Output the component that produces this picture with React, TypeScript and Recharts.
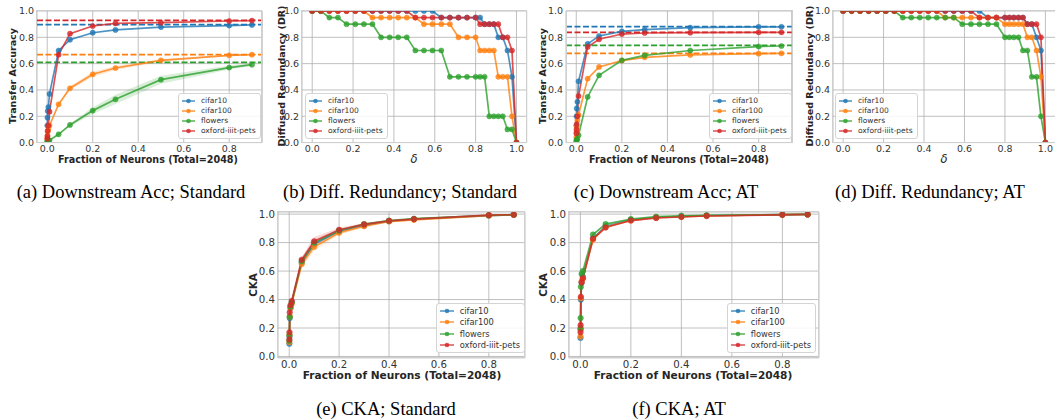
import React from 'react'
import { ComposedChart, Line, Area, XAxis, YAxis, CartesianGrid, ReferenceLine } from 'recharts'

const names = ['cifar10', 'cifar100', 'flowers', 'oxford-iiit-pets']
const colors = ['#1f77b4', '#ff7f0e', '#2ca02c', '#d62728']

// fraction of neurons kept (x axis of accuracy / CKA plots)
const fracAcc = [0.0005, 0.001, 0.002, 0.005, 0.01, 0.05, 0.1, 0.2, 0.3, 0.5, 0.8, 0.9]
const fracCka = [0.0005, 0.001, 0.002, 0.005, 0.01, 0.05, 0.1, 0.2, 0.3, 0.4, 0.5, 0.8, 0.9]
// delta values for the diffused redundancy plots
const delta = [0, 0.042, 0.084, 0.126, 0.168, 0.211, 0.253, 0.295, 0.337, 0.379, 0.421, 0.463, 0.505, 0.547, 0.589, 0.632, 0.674, 0.716, 0.758, 0.8, 0.822, 0.844, 0.867, 0.889, 0.911, 0.933, 0.956, 0.978, 1.0]

const tickTop = [0, 0.2, 0.4, 0.6, 0.8]
const tickDelta = [0, 0.2, 0.4, 0.6, 0.8, 1.0]
const tickY = [0, 0.2, 0.4, 0.6, 0.8, 1.0]

// (a) downstream accuracy, standard
const accStdCifar10 = [0.13, 0.19, 0.24, 0.27, 0.37, 0.699, 0.782, 0.835, 0.856, 0.878, 0.889, 0.894]
const accStdCifar100 = [0.03, 0.05, 0.08, 0.1, 0.13, 0.291, 0.413, 0.519, 0.567, 0.625, 0.663, 0.668]
const accStdFlowers = [0.01, 0.01, 0.012, 0.015, 0.018, 0.063, 0.134, 0.243, 0.329, 0.478, 0.57, 0.592]
const accStdPets = [0.03, 0.05, 0.09, 0.13, 0.235, 0.668, 0.828, 0.886, 0.906, 0.911, 0.924, 0.927]
const accStdCifar100Band = [0, 0, 0, 0, 0, 0.01, 0.015, 0.02, 0.015, 0.01, 0.005, 0.005]
const accStdFlowersBand = [0, 0, 0, 0, 0, 0.005, 0.01, 0.025, 0.035, 0.03, 0.015, 0.01]
const accStdFull = [0.896, 0.668, 0.61, 0.929]

// (c) downstream accuracy, AT
const accAtCifar10 = [0.13, 0.2, 0.26, 0.31, 0.466, 0.75, 0.81, 0.845, 0.858, 0.873, 0.88, 0.88]
const accAtCifar100 = [0.04, 0.08, 0.12, 0.17, 0.21, 0.486, 0.575, 0.623, 0.648, 0.666, 0.676, 0.678]
const accAtFlowers = [0.01, 0.015, 0.02, 0.03, 0.056, 0.347, 0.511, 0.625, 0.663, 0.7, 0.73, 0.734]
const accAtPets = [0.07, 0.1, 0.14, 0.2, 0.354, 0.727, 0.785, 0.825, 0.833, 0.835, 0.838, 0.838]
const accAtFull = [0.881, 0.678, 0.739, 0.838]

// (b) diffused redundancy, standard
const drStdCifar10 = [1, 1, 1, 1, 1, 1, 1, 1, 1, 1, 1, 1, 1, 1, 1, 0.95, 0.95, 0.95, 0.95, 0.95, 0.95, 0.9, 0.9, 0.9, 0.8, 0.8, 0.7, 0.5, 0]
const drStdCifar100 = [1, 1, 1, 1, 1, 1, 1, 0.95, 0.95, 0.95, 0.95, 0.95, 0.95, 0.9, 0.9, 0.9, 0.9, 0.8, 0.8, 0.8, 0.7, 0.7, 0.7, 0.7, 0.5, 0.5, 0.5, 0.2, 0]
const drStdFlowers = [1, 1, 0.95, 0.95, 0.9, 0.9, 0.9, 0.9, 0.8, 0.8, 0.8, 0.8, 0.7, 0.7, 0.7, 0.7, 0.5, 0.5, 0.5, 0.5, 0.5, 0.5, 0.2, 0.2, 0.2, 0.2, 0.1, 0.1, 0]
const drStdPets = [1, 1, 1, 1, 1, 1, 1, 1, 1, 1, 1, 1, 0.95, 0.95, 0.95, 0.95, 0.95, 0.95, 0.95, 0.95, 0.9, 0.9, 0.9, 0.9, 0.9, 0.8, 0.8, 0.7, 0]

// (d) diffused redundancy, AT
const drAtCifar10 = [1, 1, 1, 1, 1, 1, 1, 1, 1, 1, 1, 1, 1, 1, 1, 1, 1, 0.95, 0.95, 0.95, 0.95, 0.95, 0.95, 0.95, 0.9, 0.9, 0.8, 0.7, 0]
const drAtCifar100 = [1, 1, 1, 1, 1, 1, 1, 1, 1, 1, 1, 1, 0.95, 0.95, 0.95, 0.95, 0.95, 0.95, 0.95, 0.9, 0.9, 0.9, 0.9, 0.9, 0.8, 0.8, 0.7, 0.5, 0]
const drAtFlowers = [1, 1, 1, 1, 1, 1, 1, 0.95, 0.95, 0.95, 0.95, 0.95, 0.95, 0.95, 0.9, 0.9, 0.9, 0.9, 0.9, 0.8, 0.8, 0.8, 0.8, 0.7, 0.7, 0.5, 0.5, 0.2, 0]
const drAtPets = [1, 1, 1, 1, 1, 1, 1, 1, 1, 1, 1, 1, 1, 1, 1, 1, 0.95, 0.95, 0.95, 0.95, 0.95, 0.95, 0.95, 0.95, 0.9, 0.9, 0.9, 0.8, 0]

// (e) CKA, standard
const ckaStdCifar10 = [0.09, 0.14, 0.27, 0.34, 0.38, 0.66, 0.79, 0.88, 0.92, 0.95, 0.965, 0.99, 0.995]
const ckaStdCifar100 = [0.1, 0.15, 0.28, 0.34, 0.37, 0.65, 0.77, 0.87, 0.915, 0.948, 0.96, 0.99, 0.995]
const ckaStdFlowers = [0.11, 0.15, 0.28, 0.35, 0.38, 0.67, 0.8, 0.885, 0.93, 0.955, 0.968, 0.992, 0.996]
const ckaStdPets = [0.12, 0.17, 0.31, 0.36, 0.39, 0.68, 0.81, 0.89, 0.928, 0.953, 0.965, 0.993, 0.996]
const ckaStdCifar100Band = [0, 0, 0, 0, 0.01, 0.03, 0.025, 0.015, 0.01, 0.005, 0.005, 0, 0]
const ckaStdPetsBand = [0, 0, 0, 0, 0.01, 0.02, 0.03, 0.015, 0.01, 0.005, 0.005, 0, 0]

// (f) CKA, AT
const ckaAtCifar10 = [0.13, 0.19, 0.4, 0.52, 0.56, 0.83, 0.915, 0.96, 0.977, 0.984, 0.99, 0.996, 0.998]
const ckaAtCifar100 = [0.14, 0.19, 0.41, 0.53, 0.55, 0.82, 0.91, 0.955, 0.975, 0.982, 0.988, 0.996, 0.998]
const ckaAtFlowers = [0.2, 0.27, 0.49, 0.58, 0.6, 0.857, 0.93, 0.965, 0.982, 0.988, 0.992, 0.997, 0.998]
const ckaAtPets = [0.17, 0.22, 0.42, 0.52, 0.55, 0.827, 0.906, 0.955, 0.973, 0.98, 0.987, 0.995, 0.998]

type Frame = { x: number; y: number; w: number; h: number }
type Series = { values: number[]; band?: number[] }

const PAD_L = 34
const PAD_T = 8
const PAD_R = 6
const PAD_B = 18

const fmt = (v: number) => v.toFixed(1)

function Panel({ frame, xs, series, xDomain, xTicks, yDomain, refLines = [], fontSize, dotR }: {
  frame: Frame; xs: number[]; series: Series[]; xDomain: [number, number]; xTicks: number[]
  yDomain: [number, number]; refLines?: number[]; fontSize: number; dotR: number
}) {
  const data = xs.map((x, i) => {
    const row: any = { x }
    series.forEach((s, k) => {
      row['s' + k] = s.values[i]
      if (s.band) row['b' + k] = [s.values[i] - s.band[i], s.values[i] + s.band[i]]
    })
    return row
  })
  const tick = { fontSize, fill: '#333', fontFamily: 'DejaVu Sans' }
  return (
    <>
      <div style={{ position: 'absolute', left: frame.x - PAD_L, top: frame.y - PAD_T }}>
        <ComposedChart
          width={frame.w + PAD_L + PAD_R}
          height={frame.h + PAD_T + PAD_B}
          data={data}
          margin={{ top: PAD_T, right: PAD_R, left: 0, bottom: 0 }}
        >
          <CartesianGrid stroke="#b0b0b0" strokeWidth={0.8} />
          <XAxis
            dataKey="x" type="number" domain={xDomain} ticks={xTicks} allowDataOverflow interval={0}
            height={PAD_B} tickSize={0} tickMargin={2.5} axisLine={false} tickLine={false}
            tick={tick} tickFormatter={fmt}
          />
          <YAxis
            type="number" domain={yDomain} ticks={tickY} allowDataOverflow interval={0}
            width={PAD_L} tickSize={0} tickMargin={3} axisLine={false} tickLine={false}
            tick={tick} tickFormatter={fmt}
          />
          {series.map((s, k) => s.band ? (
            <Area key={'b' + k} dataKey={'b' + k} type="linear" stroke="none" fill={colors[k]}
              fillOpacity={0.18} dot={false} activeDot={false} isAnimationActive={false} />
          ) : null)}
          {refLines.map((v, k) => (
            <ReferenceLine key={'r' + k} y={v} stroke={colors[k]} strokeWidth={1.8} strokeDasharray="6 2.5" />
          ))}
          {series.map((s, k) => (
            <Line key={'s' + k} dataKey={'s' + k} type="linear" stroke={colors[k]} strokeWidth={1.7}
              strokeOpacity={0.8}
              dot={{ r: dotR, fill: colors[k], stroke: colors[k], fillOpacity: 0.8, strokeOpacity: 0.8, strokeWidth: 0.5 }}
              activeDot={false} isAnimationActive={false} />
          ))}
        </ComposedChart>
      </div>
      <div style={{
        position: 'absolute', left: frame.x - 0.75, top: frame.y - 0.75, width: frame.w + 1.5, height: frame.h + 1.5,
        border: '1.5px solid #cfcfcf', boxSizing: 'border-box', pointerEvents: 'none'
      }} />
    </>
  )
}

function LegendBox({ x, y, fontSize, rowH, sample }: { x: number; y: number; fontSize: number; rowH: number; sample: number }) {
  return (
    <div style={{
      position: 'absolute', left: x, top: y, background: 'rgba(255,255,255,0.85)', border: '1px solid #d4d4d4',
      borderRadius: 3, padding: '2px 4px 2px 3px', fontFamily: 'DejaVu Sans', fontSize, color: '#333', lineHeight: 1
    }}>
      {names.map((n, k) => (
        <div key={n} style={{ display: 'flex', alignItems: 'center', height: rowH, whiteSpace: 'nowrap' }}>
          <svg width={sample} height={6} style={{ marginRight: 6 }}>
            <line x1={0} y1={3} x2={sample} y2={3} stroke={colors[k]} strokeWidth={1.5} strokeOpacity={0.8} />
            <circle cx={sample / 2} cy={3} r={2.3} fill={colors[k]} fillOpacity={0.8} />
          </svg>
          <span>{n}</span>
        </div>
      ))}
    </div>
  )
}

function Text({ x, y, children, size, bold, rotate, family, italic }: any) {
  return (
    <div style={{
      position: 'absolute', left: x, top: y, transform: `translate(-50%, -50%)${rotate ? ' rotate(-90deg)' : ''}`,
      fontSize: size, fontWeight: bold ? 'bold' : 'normal', fontStyle: italic ? 'italic' : 'normal',
      fontFamily: family || 'DejaVu Sans', color: family ? '#000' : '#262626', whiteSpace: 'nowrap', lineHeight: 1
    }}>{children}</div>
  )
}

const frameA = { x: 36.5, y: 10.7, w: 225.2, h: 131.6 }
const frameB = { x: 301.5, y: 10.7, w: 224.7, h: 131.6 }
const frameC = { x: 566.4, y: 10.7, w: 225.7, h: 131.6 }
const frameD = { x: 832.5, y: 10.7, w: 222.5, h: 131.6 }
const frameE = { x: 277.5, y: 211.6, w: 247, h: 145.9 }
const frameF = { x: 568.5, y: 211.6, w: 250, h: 145.9 }

export default function App() {
  const fracDomain: [number, number] = [-0.045, 0.945]
  const deltaDomain: [number, number] = [-0.05, 1.05]
  const topY: [number, number] = [0, 1]
  const bottomY: [number, number] = [-0.01, 1.015]
  const xLabel = 'Fraction of Neurons (Total=2048)'
  const serif = 'Liberation Serif'
  return (
    <div style={{ position: 'absolute', left: 0, top: 0, width: 1055, height: 419, background: '#fff', overflow: 'hidden' }}>
      <Panel frame={frameA} xs={fracAcc} xDomain={fracDomain} xTicks={tickTop} yDomain={topY} fontSize={9.5} dotR={2.6}
        refLines={accStdFull}
        series={[
          { values: accStdCifar10 }, { values: accStdCifar100, band: accStdCifar100Band },
          { values: accStdFlowers, band: accStdFlowersBand }, { values: accStdPets }
        ]} />
      <Panel frame={frameB} xs={delta} xDomain={deltaDomain} xTicks={tickDelta} yDomain={topY} fontSize={9.5} dotR={2.6}
        series={[{ values: drStdCifar10 }, { values: drStdCifar100 }, { values: drStdFlowers }, { values: drStdPets }]} />
      <Panel frame={frameC} xs={fracAcc} xDomain={fracDomain} xTicks={tickTop} yDomain={topY} fontSize={9.5} dotR={2.6}
        refLines={accAtFull}
        series={[{ values: accAtCifar10 }, { values: accAtCifar100 }, { values: accAtFlowers }, { values: accAtPets }]} />
      <Panel frame={frameD} xs={delta} xDomain={deltaDomain} xTicks={tickDelta} yDomain={topY} fontSize={9.5} dotR={2.6}
        series={[{ values: drAtCifar10 }, { values: drAtCifar100 }, { values: drAtFlowers }, { values: drAtPets }]} />
      <Panel frame={frameE} xs={fracCka} xDomain={fracDomain} xTicks={tickTop} yDomain={bottomY} fontSize={10.2} dotR={2.8}
        series={[
          { values: ckaStdCifar10 }, { values: ckaStdCifar100, band: ckaStdCifar100Band },
          { values: ckaStdFlowers }, { values: ckaStdPets, band: ckaStdPetsBand }
        ]} />
      <Panel frame={frameF} xs={fracCka} xDomain={fracDomain} xTicks={tickTop} yDomain={bottomY} fontSize={10.2} dotR={2.8}
        series={[{ values: ckaAtCifar10 }, { values: ckaAtCifar100 }, { values: ckaAtFlowers }, { values: ckaAtPets }]} />

      <LegendBox x={178} y={93} fontSize={7.5} rowH={10} sample={13} />
      <LegendBox x={305} y={93} fontSize={7.5} rowH={10} sample={13} />
      <LegendBox x={709} y={93} fontSize={7.5} rowH={10} sample={13} />
      <LegendBox x={835} y={93} fontSize={7.5} rowH={10} sample={13} />
      <LegendBox x={435.7} y={302.7} fontSize={8.3} rowH={11.2} sample={14} />
      <LegendBox x={726.7} y={302.7} fontSize={8.3} rowH={11.2} sample={14} />

      <Text x={13} y={76} size={9.5} bold rotate>Transfer Accuracy</Text>
      <Text x={281.7} y={76} size={9.5} bold rotate>Diffused Redundancy (DR)</Text>
      <Text x={543.3} y={76} size={9.5} bold rotate>Transfer Accuracy</Text>
      <Text x={810} y={76} size={9.5} bold rotate>Diffused Redundancy (DR)</Text>
      <Text x={253} y={284.5} size={10.4} bold rotate>CKA</Text>
      <Text x={543} y={284.5} size={10.4} bold rotate>CKA</Text>

      <Text x={148} y={160} size={9.6} bold>{xLabel}</Text>
      <Text x={414} y={160} size={11.5} italic>δ</Text>
      <Text x={679} y={160} size={9.6} bold>{xLabel}</Text>
      <Text x={944} y={160} size={11.5} italic>δ</Text>
      <Text x={402} y={375} size={10.6} bold>{xLabel}</Text>
      <Text x={693} y={375} size={10.6} bold>{xLabel}</Text>

      <Text x={131} y={192} size={18.5} family={serif}>(a) Downstream Acc; Standard</Text>
      <Text x={400} y={192} size={18.5} family={serif}>(b) Diff. Redundancy; Standard</Text>
      <Text x={666} y={192} size={18.5} family={serif}>(c) Downstream Acc; AT</Text>
      <Text x={930} y={192} size={18.5} family={serif}>(d) Diff. Redundancy; AT</Text>
      <Text x={386} y={409} size={18.5} family={serif}>(e) CKA; Standard</Text>
      <Text x={679} y={409} size={18.5} family={serif}>(f) CKA; AT</Text>
    </div>
  )
}
